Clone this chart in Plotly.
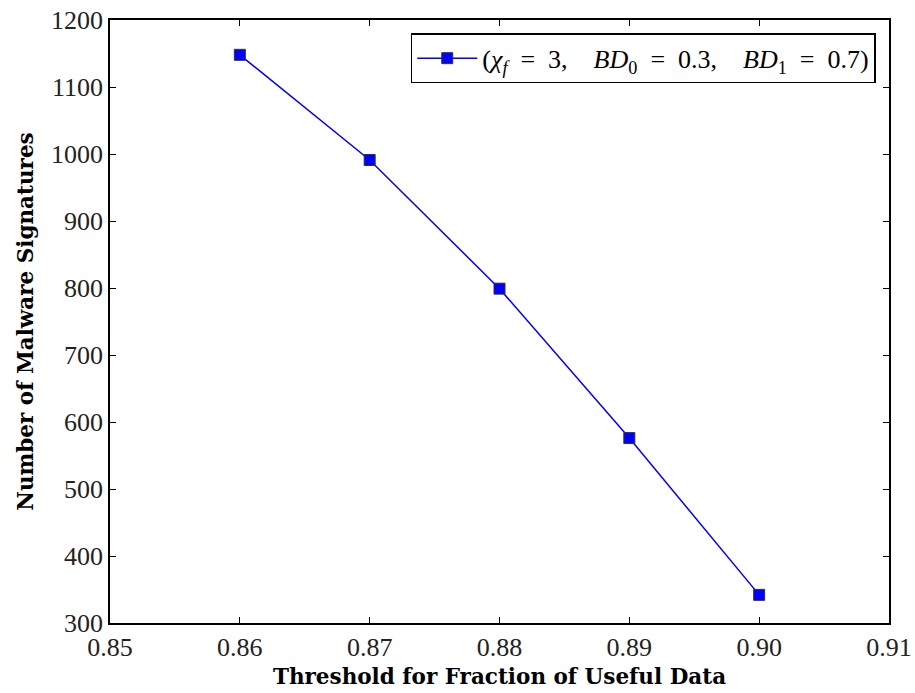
import plotly.graph_objects as go

# Threshold on the fraction of useful data vs. number of signatures generated
thresholds = [0.86, 0.87, 0.88, 0.89, 0.90]
signatures = [1148, 991, 799, 576, 342]
series_label = ("(<i>χ</i><sub><i>f</i></sub>&nbsp; = &nbsp;3, &nbsp;&nbsp;&nbsp;<i>BD</i><sub>0</sub>&nbsp; = &nbsp;0.3, "
                "&nbsp;&nbsp;&nbsp;<i>BD</i><sub>1</sub>&nbsp; = &nbsp;0.7)")

x_ticks = [0.85, 0.86, 0.87, 0.88, 0.89, 0.90, 0.91]
x_tick_text = ["0.85", "0.86", "0.87", "0.88", "0.89", "0.90", "0.91"]
y_ticks = [300, 400, 500, 600, 700, 800, 900, 1000, 1100, 1200]

SERIF = "Liberation Serif, DejaVu Serif, serif"
TITLE_FONT = "DejaVu Serif, serif"

fig = go.Figure()
fig.add_trace(go.Scatter(
    x=thresholds,
    y=signatures,
    mode="lines+markers",
    name=series_label,
    line=dict(color="#0000ff", width=1.5),
    marker=dict(symbol="square", size=11, color="#0000ff",
                line=dict(color="#333333", width=1)),
))

axis_common = dict(
    showline=True, linecolor="black", linewidth=1.5,
    mirror="ticks", ticks="inside", ticklen=6, tickwidth=1, tickcolor="black",
    showgrid=False, zeroline=False, automargin=False,
    tickfont=dict(family=SERIF, size=26, color="#222222"),
)

fig.update_layout(
    width=915, height=693,
    margin=dict(l=110, r=26, t=20, b=70),
    paper_bgcolor="white", plot_bgcolor="white",
    showlegend=True,
    legend=dict(
        x=0.983, y=0.978, xanchor="right", yanchor="top",
        bordercolor="black", borderwidth=1.5, bgcolor="white",
        font=dict(family=SERIF, size=26, color="black"),
        itemwidth=60,
    ),
    xaxis=dict(
        range=[0.85, 0.91], tickvals=x_ticks, ticktext=x_tick_text,
        title=dict(text="<b>Threshold for Fraction of Useful Data</b>",
                   font=dict(family=TITLE_FONT, size=21.5, color="black"), standoff=8),
        **axis_common,
    ),
    yaxis=dict(
        range=[300, 1200], tickvals=y_ticks,
        title=dict(text="<b>Number of Malware Signatures</b>",
                   font=dict(family=TITLE_FONT, size=21.5, color="black"), standoff=12),
        **axis_common,
    ),
)

fig.write_html("out.html")
